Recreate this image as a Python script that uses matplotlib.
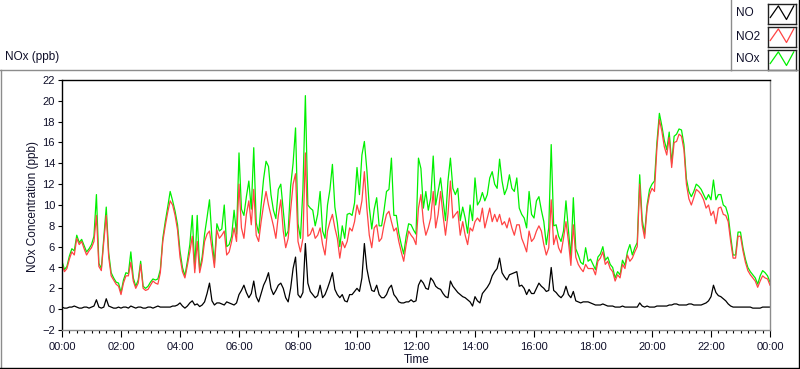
import numpy as np
import matplotlib
matplotlib.use("Agg")
import matplotlib.pyplot as plt
from matplotlib.lines import Line2D
from matplotlib.ticker import MultipleLocator, FuncFormatter

plt.rcParams['font.family'] = ['Liberation Sans', 'DejaVu Sans']

# samples every 5 minutes, 00:00 .. 24:00 (one line per 4 hours)
minutes = np.arange(0, 1441, 5)

no2 = [4.3, 3.6, 3.9, 4.8, 5.5, 5.2, 6.8, 6.2, 6.5, 5.8, 5.2, 5.6, 5.9, 6.5, 9.0, 4.1, 3.7, 6.5, 9.0, 5.0, 3.2, 2.8, 2.4, 2.2, 1.4, 2.5, 3.2, 3.2, 4.5, 2.7, 2.0, 2.5, 4.3, 2.0, 1.8, 1.9, 2.3, 2.7, 2.5, 2.4, 3.5, 6.5, 8.0, 9.3, 10.4, 10.0, 9.0, 7.6,
       5.0, 3.6, 3.0, 4.2, 5.5, 7.0, 3.5, 6.5, 3.5, 4.6, 6.5, 7.2, 7.5, 5.8, 4.0, 7.6, 6.8, 7.1, 7.5, 5.2, 5.5, 6.5, 7.8, 6.5, 12.0, 7.8, 6.8, 9.1, 10.4, 8.1, 11.5, 7.1, 6.5, 8.4, 10.0, 11.3, 10.0, 9.0, 8.0, 6.8, 9.0, 10.5, 7.5, 5.9, 6.8, 9.5, 12.0, 13.0,
       6.5, 5.5, 6.8, 15.0, 7.0, 7.2, 7.8, 6.8, 7.1, 7.8, 6.2, 5.2, 7.5, 8.4, 9.1, 7.8, 6.8, 4.9, 6.5, 5.9, 6.5, 7.8, 7.5, 8.4, 10.0, 9.1, 10.4, 13.2, 9.7, 7.1, 5.9, 7.8, 8.1, 6.5, 6.8, 8.1, 9.1, 9.4, 8.4, 7.5, 7.8, 6.5, 5.5, 4.6, 6.2, 7.5, 7.1, 6.8,
       6.2, 9.7, 11.0, 8.4, 7.1, 7.8, 8.75, 11.3, 7.8, 9.1, 11.3, 9.0, 7.1, 9.1, 12.3, 8.75, 9.1, 9.4, 7.1, 8.4, 7.1, 6.2, 7.8, 7.5, 8.4, 8.75, 8.4, 9.7, 7.8, 8.75, 9.7, 8.4, 9.1, 8.4, 9.1, 8.1, 8.4, 7.8, 8.75, 7.8, 7.1, 8.1, 8.1, 6.8, 6.2, 5.5, 7.5, 6.5,
       6.8, 7.5, 8.0, 7.5, 6.2, 5.2, 5.9, 10.5, 6.2, 7.1, 5.9, 5.4, 6.8, 8.4, 6.5, 4.2, 8.1, 5.0, 4.3, 3.9, 3.6, 4.3, 3.9, 3.9, 3.9, 3.3, 4.6, 4.9, 5.5, 4.3, 4.6, 3.9, 3.6, 2.7, 3.3, 3.0, 4.3, 3.9, 5.2, 4.6, 4.9, 5.5, 6.0, 12.0, 8.1, 6.8, 9.7, 11.0,
       11.6, 11.3, 15.5, 18.2, 17.1, 15.6, 14.8, 16.5, 13.6, 16.0, 16.1, 16.8, 16.6, 15.3, 12.0, 10.6, 10.0, 10.7, 11.5, 11.3, 11.0, 10.5, 9.7, 10.0, 9.0, 9.4, 8.2, 9.7, 9.8, 9.1, 9.0, 8.4, 6.5, 4.9, 4.9, 7.0, 7.0, 5.6, 4.5, 3.7, 3.3, 3.0, 2.7, 2.1, 2.7, 3.2, 3.0, 2.9, 2.3]

no = [0.2, 0.1, 0.1, 0.2, 0.2, 0.3, 0.2, 0.1, 0.1, 0.2, 0.2, 0.1, 0.2, 0.3, 0.9, 0.2, 0.1, 0.2, 1.0, 0.3, 0.2, 0.1, 0.1, 0.2, 0.1, 0.2, 0.2, 0.1, 0.3, 0.2, 0.1, 0.2, 0.2, 0.1, 0.1, 0.2, 0.2, 0.1, 0.2, 0.3, 0.2, 0.2, 0.2, 0.2, 0.2, 0.3, 0.3, 0.4,
      0.6, 0.3, 0.1, 0.3, 0.6, 0.8, 0.4, 0.5, 0.25, 0.4, 0.7, 1.5, 2.5, 0.8, 0.4, 0.6, 0.6, 0.5, 0.4, 0.7, 0.6, 0.5, 0.4, 0.6, 1.4, 1.8, 2.3, 1.6, 1.1, 1.5, 2.7, 1.2, 0.7, 1.5, 2.3, 2.8, 3.5, 2.0, 1.4, 1.8, 2.3, 2.5, 2.0, 1.1, 0.7, 2.0, 3.9, 5.0,
      1.4, 1.1, 1.6, 6.3, 2.5, 1.7, 1.4, 1.1, 1.3, 2.3, 1.1, 1.4, 2.0, 2.7, 3.5, 1.9, 1.4, 1.1, 1.4, 0.8, 0.7, 1.4, 1.4, 1.7, 2.0, 1.7, 3.0, 6.3, 3.9, 2.7, 1.8, 1.7, 2.3, 1.4, 1.1, 1.1, 1.4, 2.0, 2.3, 1.4, 1.1, 0.7, 0.6, 0.6, 0.7, 0.7, 0.9, 0.7,
      0.8, 2.3, 2.8, 2.5, 2.0, 1.9, 3.0, 2.7, 2.2, 2.0, 1.9, 1.5, 1.2, 1.1, 2.7, 2.2, 1.9, 1.6, 1.4, 1.2, 1.1, 0.9, 0.7, 0.3, 1.2, 0.8, 0.6, 1.5, 1.8, 2.1, 2.5, 3.2, 3.6, 3.9, 4.9, 3.5, 3.1, 2.8, 3.3, 3.4, 3.5, 3.6, 2.2, 2.3, 2.0, 1.4, 1.9, 1.5,
      1.5, 2.0, 2.5, 2.2, 2.0, 1.7, 1.8, 4.0, 1.8, 1.6, 1.3, 1.1, 1.4, 2.2, 1.4, 1.1, 1.7, 0.8, 0.7, 0.6, 0.7, 0.7, 0.7, 0.6, 0.5, 0.4, 0.4, 0.4, 0.5, 0.4, 0.3, 0.3, 0.3, 0.2, 0.2, 0.2, 0.3, 0.2, 0.2, 0.2, 0.2, 0.2, 0.2, 0.6, 0.3, 0.2, 0.3, 0.2,
      0.2, 0.2, 0.3, 0.3, 0.3, 0.3, 0.3, 0.4, 0.4, 0.5, 0.5, 0.4, 0.4, 0.4, 0.4, 0.5, 0.5, 0.4, 0.4, 0.4, 0.4, 0.5, 0.6, 0.8, 1.2, 2.3, 1.6, 1.3, 1.2, 1.0, 0.8, 0.5, 0.3, 0.2, 0.2, 0.2, 0.2, 0.2, 0.2, 0.2, 0.2, 0.1, 0.1, 0.1, 0.1, 0.2, 0.2, 0.2, 0.2]

nox = [4.6, 3.8, 4.1, 5.1, 5.8, 5.6, 7.1, 6.4, 6.7, 6.1, 5.5, 5.8, 6.2, 7.0, 11.0, 4.4, 3.9, 6.9, 9.8, 5.4, 3.5, 3.0, 2.6, 2.5, 1.6, 2.8, 3.5, 3.4, 5.5, 3.0, 2.2, 2.8, 4.6, 2.2, 2.0, 2.2, 2.6, 2.9, 2.8, 2.9, 3.8, 6.8, 8.4, 9.8, 11.3, 10.4, 9.4, 8.1,
       5.6, 4.0, 3.2, 4.6, 6.2, 9.0, 3.9, 9.0, 3.8, 5.0, 7.2, 8.8, 10.5, 6.8, 4.4, 8.2, 7.5, 7.7, 10.0, 6.0, 6.2, 7.0, 9.5, 7.2, 15.0, 9.6, 9.0, 10.8, 12.3, 9.6, 15.5, 8.3, 7.3, 10.0, 12.5, 14.2, 13.7, 11.0, 9.5, 8.7, 11.5, 12.0, 9.5, 7.0, 7.5, 11.8, 14.0, 17.4,
       8.2, 6.8, 11.5, 20.5, 10.0, 9.7, 9.5, 8.0, 9.1, 11.3, 7.5, 6.8, 10.0, 11.5, 13.9, 9.8, 8.3, 6.0, 8.0, 6.8, 9.1, 9.2, 9.0, 10.2, 13.6, 11.0, 14.8, 16.1, 13.4, 9.8, 7.7, 9.6, 10.7, 8.0, 8.0, 9.5, 11.3, 11.5, 14.5, 9.0, 9.0, 7.3, 6.2, 5.3, 7.0, 8.2, 8.1, 7.6,
       7.2, 14.5, 13.5, 9.7, 11.3, 9.5, 10.7, 14.7, 10.0, 11.3, 12.6, 10.5, 8.5, 12.3, 14.5, 11.6, 11.0, 11.6, 8.5, 9.8, 8.75, 7.3, 10.0, 8.5, 12.6, 10.0, 10.4, 11.2, 10.4, 11.0, 12.6, 13.2, 12.0, 11.6, 14.4, 12.3, 11.0, 11.6, 12.9, 11.6, 11.3, 12.6, 9.7, 9.1, 8.75, 7.8, 11.3, 9.1,
       8.75, 10.4, 10.8, 9.5, 8.4, 6.2, 7.8, 15.8, 8.0, 8.1, 7.0, 6.5, 7.5, 10.4, 7.6, 5.0, 10.7, 5.8, 5.2, 4.5, 4.3, 5.9, 4.6, 4.8, 4.3, 3.8, 5.0, 5.3, 6.0, 4.7, 5.0, 4.3, 4.0, 3.0, 3.6, 3.3, 4.7, 4.2, 5.5, 6.2, 5.2, 5.9, 6.4, 12.9, 8.6, 7.2, 10.0, 11.5,
       12.0, 12.3, 16.0, 18.8, 17.6, 16.2, 15.3, 17.0, 14.0, 16.6, 16.8, 17.3, 17.2, 15.8, 12.5, 11.3, 10.8, 11.3, 12.0, 11.8, 11.5, 11.0, 10.5, 11.0, 10.5, 12.4, 10.5, 11.0, 11.0, 10.0, 9.8, 9.0, 7.0, 5.2, 5.2, 7.4, 7.4, 5.9, 4.8, 4.0, 3.6, 3.3, 3.0, 2.4, 3.2, 3.7, 3.5, 3.2, 2.6]

names = ['NO', 'NO2', 'NOx']
colours = ['#000000', '#ff4444', '#00f000']
txt = '#10102a'

W, H = 800, 369
fig = plt.figure(figsize=(W / 100, H / 100), dpi=100)
ax = fig.add_axes([62 / W, 1 - 330 / H, 708 / W, 250 / H])

hours = minutes / 60.0
ax.plot(hours, nox, color=colours[2], lw=0.9)
ax.plot(hours, no2, color=colours[1], lw=0.9)
ax.plot(hours, no, color=colours[0], lw=0.9)

ax.set_xlim(0, 24)
ax.set_ylim(-2, 22)
ax.xaxis.set_major_locator(MultipleLocator(2))
ax.xaxis.set_minor_locator(MultipleLocator(0.25))
ax.xaxis.set_major_formatter(FuncFormatter(lambda v, p: '%02d:00' % (int(round(v)) % 24)))
ax.yaxis.set_major_locator(MultipleLocator(2))
ax.tick_params(axis='both', which='major', direction='out', labelsize=8, colors='black', labelcolor=txt, width=0.8)
ax.tick_params(axis='x', which='major', length=5, pad=4)
ax.tick_params(axis='x', which='minor', length=2.5, width=0.8)
ax.tick_params(axis='y', which='major', length=3, pad=2)

for side, c in [('left', 'black'), ('top', 'black'), ('right', '#8c8c8c'), ('bottom', '#8c8c8c')]:
    ax.spines[side].set_color(c)
    ax.spines[side].set_linewidth(1.0)

fig.text(33 / W, 1 - 207 / H, 'NOx Concentration (ppb)', rotation=90, ha='center', va='center', fontsize=8.5, color=txt)
fig.text(417 / W, 1 - 360 / H, 'Time', ha='center', va='center', fontsize=8.5, color=txt)
fig.text(5 / W, 1 - 57 / H, 'NOx (ppb)', ha='left', va='center', fontsize=8.5, color=txt)

# panel frame
def fline(x, y, c):
    fig.add_artist(Line2D([v / W for v in x], [1 - v / H for v in y], color=c, lw=1.0))

fline([0, 731], [69.5, 69.5], '#8c8c8c')
fline([0.5, 0.5], [69.5, 369], '#8c8c8c')
fline([0, 800], [367.5, 367.5], 'black')
fline([798.5, 798.5], [0, 369], 'black')
fline([731, 731], [0, 69.5], '#8c8c8c')
fline([731, 798], [69.5, 69.5], '#8c8c8c')

# legend
for k, (name, c) in enumerate(zip(names, colours)):
    yc = 13.5 + k * 23
    fig.text(736 / W, 1 - yc / H, name, ha='left', va='center', fontsize=8.5, color=txt)
    lax = fig.add_axes([768 / W, 1 - (yc + 10) / H, 28 / W, 20 / H])
    lax.set_xlim(0, 1)
    lax.set_ylim(0, 1)
    lax.set_xticks([])
    lax.set_yticks([])
    for s in lax.spines.values():
        s.set_color('#202020')
        s.set_linewidth(1.0)
    lax.plot([0.08, 0.37, 0.66, 0.92], [0.3, 0.88, 0.2, 0.88], color=c, lw=0.9)

fig.savefig('out.png', dpi=100)
